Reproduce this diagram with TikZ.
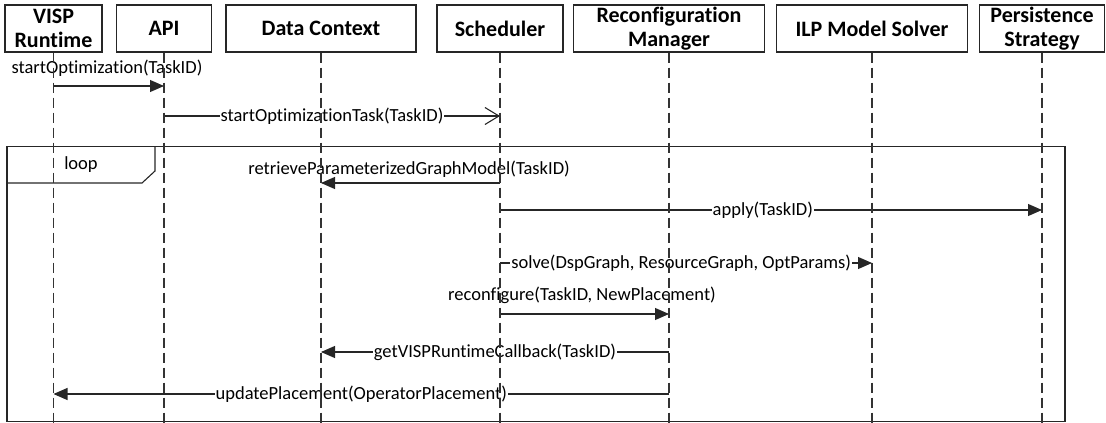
\documentclass[tikz,border=0pt]{standalone}
\usepackage{fontspec}
\setmainfont{Carlito}[Ligatures=CommonOff]
\usetikzlibrary{arrows.meta}
\begin{document}
\begin{tikzpicture}[x=1pt,y=-1pt,
  every node/.style={font=\fontsize{18.5}{21}\selectfont},
  head/.style={draw=black!85, line width=1.1pt, minimum height=47pt, align=center,
    inner sep=0pt, font=\fontsize{22}{23.5}\selectfont\bfseries},
  lifeline/.style={draw=black!80, line width=1.1pt, dash pattern=on 10pt off 5pt},
  sync/.style={draw=black!85, line width=1.1pt, -{Triangle[length=14pt,width=12pt]}},
  async/.style={draw=black!85, line width=1.1pt, -{Straight Barb[length=14pt,width=17pt]}},
  tag/.style={fill=white, inner xsep=1pt, inner ysep=0pt},
  frame/.style={draw=black!85, line width=1.1pt}]
\useasboundingbox (0,0) rectangle (1106,423);

% participants
\node[head, minimum width=97pt]  (visp) at (53.5,28.5)  {VISP\\Runtime};
\node[head, minimum width=95pt]  (api)  at (164,28.5)   {API};
\node[head, minimum width=190pt] (dc)   at (321,28.5)   {Data Context};
\node[head, minimum width=126pt] (sch)  at (500,28.5)   {Scheduler};
\node[head, minimum width=191pt] (rm)   at (669,28.5)   {Reconfiguration\\Manager};
\node[head, minimum width=191pt] (ilp)  at (872,28.5)   {ILP Model Solver};
\node[head, minimum width=125pt] (ps)   at (1042,28.5)  {Persistence\\Strategy};
\coordinate (bottom) at (0,424);

% loop fragment
\draw[frame] (7,146.7) rectangle (1065,421.7);
\draw[frame] (7,183) -- (142,183) -- (155,171) -- (155,146.7);
\node (loop) at (81,165) {loop};

% messages
\draw[sync] (visp |- 0,86) -- (api |- 0,86);
\node (m1) at (107,68) {startOptimization(TaskID)};

\draw[async] (api |- 0,116) -- node[tag] (m2) {startOptimizationTask(TaskID)} (sch |- 0,116);

\draw[sync] (sch |- 0,183) -- (dc |- 0,183);
\node (m3) at (409,169) {retrieveParameterizedGraphModel(TaskID)};

\draw[sync] (sch |- 0,210) -- node[tag, pos=0.485] (m4) {apply(TaskID)} (ps |- 0,210);

\draw[sync] (sch |- 0,263) -- node[tag, pos=0.487] (m5) {solve(DspGraph, ResourceGraph, OptParams)} (ilp |- 0,263);

\draw[sync] (sch |- 0,314) -- (rm |- 0,314);
\node (m6) at (582,295) {reconfigure(TaskID, NewPlacement)};

\draw[sync] (rm |- 0,352) -- node[tag] (m7) {getVISPRuntimeCallback(TaskID)} (dc |- 0,352);

\draw[sync] (rm |- 0,394) -- node[tag] (m8) {updatePlacement(OperatorPlacement)} (visp |- 0,394);

% lifelines, drawn over the message labels
\foreach \p in {visp,api,dc,sch,rm,ilp,ps}
  \draw[lifeline] (\p.south) -- (\p.south |- bottom);
\end{tikzpicture}
\end{document}
